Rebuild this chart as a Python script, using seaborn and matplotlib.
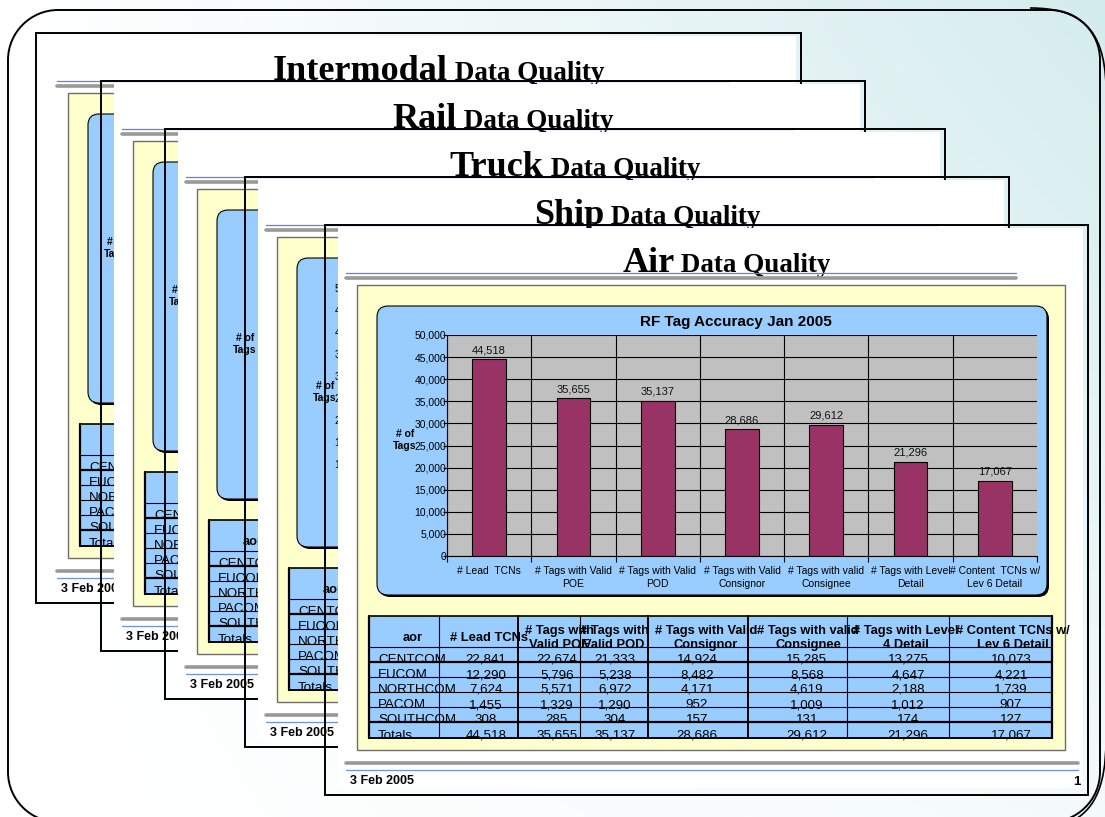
import numpy as np
import pandas as pd
import matplotlib
matplotlib.use("Agg")
import matplotlib.pyplot as plt
from matplotlib.patches import Rectangle, FancyBboxPatch, PathPatch
from matplotlib.path import Path
import seaborn as sns

W, H = 1105, 817

# chart data (front slide)
categories = ['# Lead  TCNs', '# Tags with Valid\nPOE', '# Tags with Valid\nPOD',
              '# Tags with Valid\nConsignor', '# Tags with valid\nConsignee',
              '# Tags with Level\nDetail', '# Content  TCNs w/\nLev 6 Detail']
tag_counts = [44518, 35655, 35137, 28686, 29612, 21296, 17067]
y_ticks = list(range(0, 50001, 5000))

# table data
aor_names = ['CENTCOM', 'EUCOM', 'NORTHCOM', 'PACOM', 'SOUTHCOM', 'Totals']
table_headers = [('', 'aor'), ('', '# Lead TCNs'), ('# Tags with', 'Valid POE'),
                 ('# Tags with', 'Valid POD'), ('# Tags with Valid', 'Consignor'),
                 ('# Tags with valid', 'Consignee'), ('# Tags with Level', '4 Detail'),
                 ('# Content TCNs w/', 'Lev 6 Detail')]
lead_tcns = [22841, 12290, 7624, 1455, 308, 44518]
valid_poe = [22674, 5796, 5571, 1329, 285, 35655]
valid_pod = [21333, 5238, 6972, 1290, 304, 35137]
valid_consignor = [14924, 8482, 4171, 952, 157, 28686]
valid_consignee = [15285, 8568, 4619, 1009, 131, 29612]
level4_detail = [13275, 4647, 2188, 1012, 174, 21296]
lev6_detail = [10073, 4221, 1739, 907, 127, 17067]

page_titles = ['Intermodal', 'Rail', 'Truck', 'Ship', 'Air']
footer_date = '3 Feb 2005'

# page frames in pixels (left, top, right); every page is 570 px tall
page_left = [36, 101, 165, 245, 325]
page_top = [33, 81, 129, 177, 225]
page_right = [801, 865, 945, 1009, 1088]

# table grid relative to page left/top
col_edges = [44, 114, 193, 255, 323, 423, 522, 624, 727]
col_lw = [1.6, 0.8, 1.4, 0.8, 1.4, 1.4, 0.8, 0.8, 1.6]
row_edges = [391, 422, 437, 452, 467, 482, 497, 513]
row_lw = [1.2, 0.8, 1.6, 0.8, 0.8, 0.8, 1.6, 1.4]
hdr_x = [88, 164, 234, 289, 381, 483, 581, 688]
val_x = [161, 232, 290, 372, 482, 583, 686]

sns.set_theme(style="white")
plt.rcParams['font.family'] = ['Liberation Sans', 'DejaVu Sans']
plt.rcParams.update({'text.color': 'black', 'xtick.color': 'black',
                     'ytick.color': 'black', 'axes.labelcolor': 'black'})

BLUE_BOX = '#99CCFF'
YELLOW = '#FFFFCC'
BAR = '#993366'
SERIF = ['Liberation Serif', 'DejaVu Serif']

fig = plt.figure(figsize=(W / 100, H / 100), dpi=100)
renderer = fig.canvas.get_renderer()


def px_axes(z):
    ax = fig.add_axes([0, 0, 1, 1], zorder=z)
    ax.set_xlim(0, W)
    ax.set_ylim(H, 0)
    ax.axis('off')
    return ax


def frac(x, y, w, h):
    return [x / W, 1 - (y + h) / H, w / W, h / H]


# slide background
bg = px_axes(0)
yy, xx = np.mgrid[0:H:3, 0:W:3]
t = (xx / W) ** 1.2 * (1 - 0.75 * yy / H)
white = np.array([1.0, 1.0, 1.0])
cyan = np.array([212, 236, 238]) / 255
img = white[None, None, :] * (1 - t[..., None]) + cyan[None, None, :] * t[..., None]
bg.imshow(img, extent=[0, W, H, 0], aspect='auto', interpolation='bilinear')
bg.set_xlim(0, W)
bg.set_ylim(H, 0)

# slide border: rounded corners, bottom edge lies below the picture
r, k = 50, 0.45
L, T, R, B = 8, 10, 1100, 822
border = Path([(L + r, B), (L + r * k, B), (L, B - r * k), (L, B - r),
               (L, T + r),
               (L, T + r * k), (L + r * k, T), (L + r, T),
               (R - r, T),
               (R - r * k, T), (R, T + r * k), (R, T + r),
               (R, B - r),
               (R, B - r * k), (R - r * k, B), (R - r, B)],
              [Path.MOVETO, Path.CURVE4, Path.CURVE4, Path.CURVE4,
               Path.LINETO,
               Path.CURVE4, Path.CURVE4, Path.CURVE4,
               Path.LINETO,
               Path.CURVE4, Path.CURVE4, Path.CURVE4,
               Path.LINETO,
               Path.CURVE4, Path.CURVE4, Path.CURVE4])
bg.add_patch(PathPatch(border, fill=False, ec='black', lw=1.4))
curl = Path([(1030, 8), (1080, 8), (1104, 28), (1106, 85),
             (1106, 740), (1106, 790), (1092, 812), (1070, 822)],
            [Path.MOVETO, Path.CURVE4, Path.CURVE4, Path.CURVE4,
             Path.MOVETO, Path.CURVE4, Path.CURVE4, Path.CURVE4])
bg.add_patch(PathPatch(curl, fill=False, ec='black', lw=1.2))


def draw_title(ax, cx, base_y, big):
    t1 = ax.text(0, base_y, big, fontsize=26, fontweight='bold', family=SERIF,
                 ha='left', va='baseline', zorder=4)
    t2 = ax.text(0, base_y, ' Data Quality', fontsize=19.5, fontweight='bold', family=SERIF,
                 ha='left', va='baseline', zorder=4)
    w1 = t1.get_window_extent(renderer).width
    w2 = t2.get_window_extent(renderer).width
    left = cx - (w1 + w2) / 2
    t1.set_x(left)
    t2.set_x(left + w1)


def style_chart(cax, show_ylabels):
    cax.set_facecolor('#C0C0C0')
    cax.set_xlim(-0.5, 6.5)
    cax.set_ylim(0, 50000)
    cax.set_yticks(y_ticks)
    if show_ylabels:
        cax.set_yticklabels([f'{v:,}' for v in y_ticks], fontsize=7.5)
    else:
        cax.set_yticklabels([])
    cax.set_xticks(np.arange(-0.5, 7, 1), minor=True)
    cax.tick_params(axis='y', which='major', length=3, width=0.8, color='black',
                    direction='out', pad=-2.5, left=True)
    cax.tick_params(axis='x', which='minor', length=4, width=0.8, color='black',
                    direction='out', bottom=True)
    cax.tick_params(axis='x', which='major', length=0, pad=7.5)
    cax.yaxis.grid(True, color='black', lw=0.8)
    cax.xaxis.grid(True, which='minor', color='black', lw=0.8)
    cax.xaxis.get_minor_ticks()[-1].gridline.set_visible(False)
    cax.set_axisbelow(True)
    for s in ['top', 'right']:
        cax.spines[s].set_visible(False)
    for s in ['left', 'bottom']:
        cax.spines[s].set_color('black')
        cax.spines[s].set_linewidth(0.8)
    cax.set_xlabel('')
    cax.set_ylabel('')


def draw_page(i, front, behind_front):
    x0, y0, x1 = page_left[i], page_top[i], page_right[i]
    y1 = y0 + 570
    z = 10 * (i + 1)
    ax = px_axes(z)

    ax.add_patch(Rectangle((x0 + 13, y0 + 3), x1 - 5 - (x0 + 13), y1 - 7 - (y0 + 3),
                           fc='white', ec='none'))
    ax.add_patch(Rectangle((x0, y0), x1 - x0, y1 - y0, fill=False, ec='black', lw=1.4))

    # title and rules
    draw_title(ax, (x0 + x1) / 2 + 20, y0 + 47, page_titles[i])
    ax.plot([x0 + 21, x1 - 72], [y0 + 48, y0 + 48], color='#5F7FEF', lw=0.9, zorder=5)
    ax.plot([x0 + 21, x1 - 72], [y0 + 53, y0 + 53], color='#999999', lw=2.6, zorder=5)

    # yellow panel and chart box
    ax.add_patch(Rectangle((x0 + 32, y0 + 60), x1 - 23 - (x0 + 32), 465,
                           fc=YELLOW, ec='#6E6E6E', lw=1.0))
    bw, bh = x1 - 41 - (x0 + 52), 289
    ax.add_patch(FancyBboxPatch((x0 + 54, y0 + 83), bw, bh,
                                boxstyle="round,pad=0,rounding_size=11", fc='black', ec='none'))
    ax.add_patch(FancyBboxPatch((x0 + 52, y0 + 81), bw, bh,
                                boxstyle="round,pad=0,rounding_size=11",
                                fc=BLUE_BOX, ec='black', lw=0.8))
    ax.text(x0 + 80, y0 + 215, '# of\nTags', fontsize=7.5, fontweight='bold',
            ha='center', va='center', linespacing=1.15)

    cax = fig.add_axes(frac(x0 + 122, y0 + 110, x1 - 51 - (x0 + 122), 221), zorder=z + 1)
    if front:
        ax.text(x0 + 411, y0 + 97, 'RF Tag Accuracy Jan 2005', fontsize=11,
                fontweight='bold', ha='center', va='center')
        df = pd.DataFrame({'measure': categories, 'tags': tag_counts})
        sns.barplot(data=df, x='measure', y='tags', color=BAR, saturation=1, width=0.4,
                    edgecolor='black', linewidth=0.8, ax=cax)
        cax.bar_label(cax.containers[0], labels=[f'{v:,}' for v in tag_counts],
                      padding=3, fontsize=8, color='#111111')
        style_chart(cax, True)
        cax.set_xticks(range(len(categories)))
        cax.set_xticklabels(categories, fontsize=7.5, linespacing=1.35)
    else:
        style_chart(cax, behind_front)
        cax.set_xticks([])

    # table
    tx0, tx1 = x0 + col_edges[0], x0 + col_edges[-1]
    ty0, ty1 = y0 + row_edges[0], y0 + row_edges[-1]
    ax.add_patch(Rectangle((tx0, ty0), tx1 - tx0, ty1 - ty0, fc=BLUE_BOX, ec='none'))
    for e, lw in zip(row_edges, row_lw):
        ax.plot([tx0, tx1], [y0 + e, y0 + e], color='black', lw=lw, zorder=4)
    for e, lw in zip(col_edges, col_lw):
        ax.plot([x0 + e, x0 + e], [ty0, ty1], color='black', lw=lw, zorder=4)
    hb = y0 + row_edges[1] + 1
    for j, ((l1, l2), hx) in enumerate(zip(table_headers, hdr_x)):
        if j > 0 and not front:
            continue
        if l1:
            ax.text(x0 + hx, hb - 14, l1, fontsize=9.3, fontweight='bold',
                    ha='center', va='baseline', zorder=3)
            ax.text(x0 + hx, hb, l2, fontsize=9.3, fontweight='bold',
                    ha='center', va='baseline', zorder=3)
        else:
            ax.text(x0 + hx, hb - 7, l2, fontsize=9.3, fontweight='bold',
                    ha='center', va='baseline', zorder=3)
    columns = [lead_tcns, valid_poe, valid_pod, valid_consignor,
               valid_consignee, level4_detail, lev6_detail]
    for row, name in enumerate(aor_names):
        base = y0 + row_edges[row + 2] + 1
        ax.text(x0 + 53, base, name, fontsize=9.6, ha='left', va='baseline', zorder=3)
        if front:
            for col, vx in zip(columns, val_x):
                ax.text(x0 + vx, base, f'{col[row]:,}', fontsize=9.6,
                        ha='center', va='baseline', zorder=3)

    # footer
    ax.plot([x0 + 21, x1 - 10], [y0 + 538, y0 + 538], color='#999999', lw=2.6)
    ax.plot([x0 + 21, x1 - 10], [y0 + 545, y0 + 545], color='#6F8FEF', lw=0.9)
    ax.text(x0 + 25, y0 + 556, footer_date, fontsize=9, fontweight='bold',
            ha='left', va='center')
    if front:
        ax.text(x1 - 8, y0 + 557, '1', fontsize=9.5, fontweight='bold',
                ha='right', va='center')


n = len(page_titles)
for i in range(n):
    draw_page(i, front=(i == n - 1), behind_front=(i == n - 2))

fig.savefig('out.png', dpi=100)
